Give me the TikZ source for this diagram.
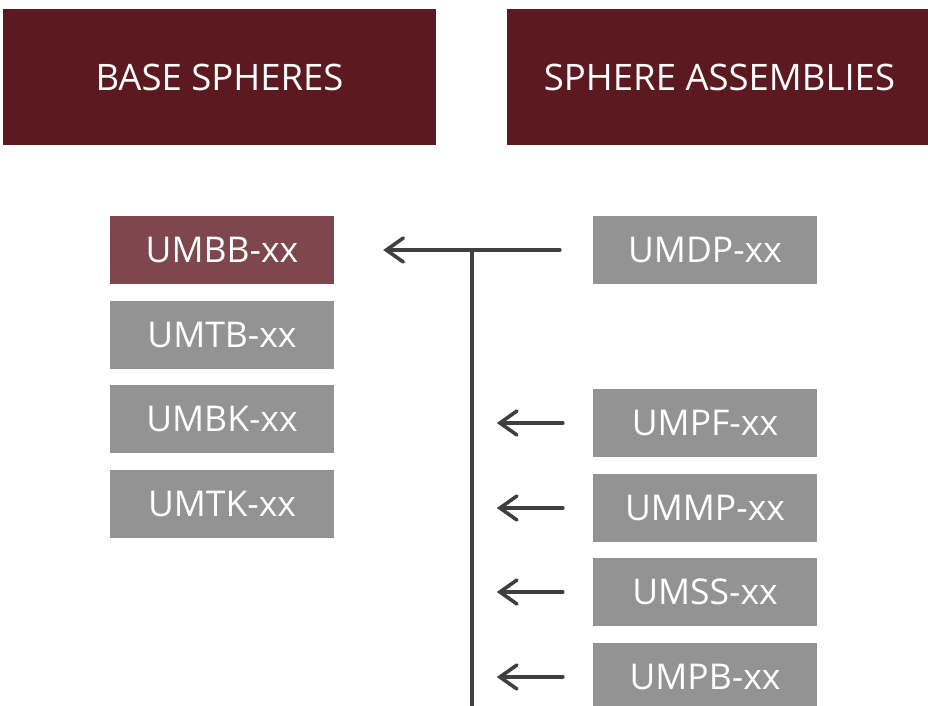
\documentclass[tikz,border=0pt]{standalone}
\usepackage{fontspec}
\setmainfont{Open Sans}
\usetikzlibrary{arrows.meta}

\definecolor{headred}{HTML}{5C1A20}
\definecolor{pickred}{HTML}{7E474D}
\definecolor{boxgray}{HTML}{939393}
\definecolor{arrgray}{HTML}{3F3F3F}

\tikzset{
  header/.style={fill=headred, text=white, inner sep=0pt,
    minimum height=136pt, font=\fontsize{36.5}{40}\selectfont},
  partbox/.style={fill=boxgray, text=white, inner sep=0pt,
    minimum width=224pt, minimum height=68pt, font=\fontsize{35.5}{40}\selectfont},
  arr/.style={draw=arrgray, line width=3.6pt, line cap=round,
    -{Straight Barb[length=17pt, width=24pt, line cap=round]}}
}

\begin{document}
\begin{tikzpicture}[x=1pt, y=-1pt]
\useasboundingbox (0,0) rectangle (928,706);

\node[header, minimum width=433pt] (base) at (219.5,77) {BASE SPHERES};
\node[header, minimum width=425pt] (assy) at (719.5,77) {SPHERE ASSEMBLIES};

\node[partbox, fill=pickred] (umbb) at (222,250) {UMBB-xx};
\node[partbox] (umtb) at (222,335) {UMTB-xx};
\node[partbox] (umbk) at (222,419) {UMBK-xx};
\node[partbox] (umtk) at (222,504) {UMTK-xx};

\node[partbox] (umdp) at (705,250) {UMDP-xx};
\node[partbox] (umpf) at (705,423) {UMPF-xx};
\node[partbox] (ummp) at (705,508) {UMMP-xx};
\node[partbox] (umss) at (705,592) {UMSS-xx};
\node[partbox] (umpb) at (705,677) {UMPB-xx};

\coordinate (junc) at (472,251);
\coordinate (bottom) at (472,712);

\draw[arr] ([xshift=-33pt]umdp.west) -- ([xshift=49pt]umbb.east);
\draw[draw=arrgray, line width=3.6pt] (junc) -- (bottom);
\draw[arr] ([xshift=-30pt]umpf.west) -- ([xshift=-96pt]umpf.west);
\draw[arr] ([xshift=-30pt]ummp.west) -- ([xshift=-96pt]ummp.west);
\draw[arr] ([xshift=-30pt]umss.west) -- ([xshift=-96pt]umss.west);
\draw[arr] ([xshift=-30pt]umpb.west) -- ([xshift=-96pt]umpb.west);
\end{tikzpicture}
\end{document}
